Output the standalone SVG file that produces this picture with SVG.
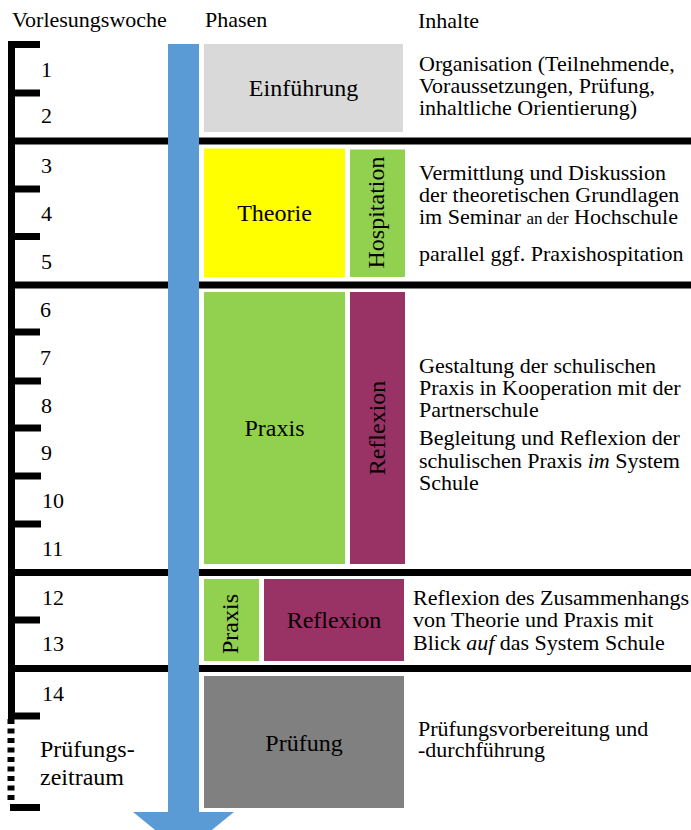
<svg xmlns="http://www.w3.org/2000/svg" width="691" height="830" viewBox="0 0 691 830" font-family="Liberation Serif, Times New Roman, serif">
<style>
text{font-family:'Liberation Serif','Times New Roman',Tinos,'DejaVu Serif',serif;fill:#000}
.t{font-size:22px}
.l{font-size:24px}
.c{text-anchor:middle}
.sep{fill:#000}
.tick{fill:#000}
</style>
<rect width="691" height="830" fill="#fff"/>
<g id="headers">
<text class="t" x="12" y="27">Vorlesungswoche</text>
<text class="t" x="205" y="27">Phasen</text>
<text class="t" x="418" y="28">Inhalte</text>
</g>
<g id="separators">
<rect class="sep" x="8" y="137.5" width="683" height="7"/>
<rect class="sep" x="8" y="281.5" width="683" height="7"/>
<rect class="sep" x="8" y="569" width="683" height="7"/>
<rect class="sep" x="8" y="665" width="683" height="7"/>
</g>
<g id="ruler">
<rect class="tick" x="8" y="41" width="7" height="678"/>
<rect class="tick" x="8" y="41" width="32" height="7"/>
<rect class="tick" x="8" y="89.5" width="32" height="7"/>
<rect class="tick" x="8" y="185.5" width="32" height="7"/>
<rect class="tick" x="8" y="233" width="32" height="7"/>
<rect class="tick" x="8" y="328.5" width="32" height="7"/>
<rect class="tick" x="8" y="377.5" width="33" height="7"/>
<rect class="tick" x="8" y="424.5" width="33" height="7"/>
<rect class="tick" x="8" y="472.5" width="33" height="7"/>
<rect class="tick" x="8" y="520.5" width="33" height="7"/>
<rect class="tick" x="8" y="616.5" width="32" height="7"/>
<rect class="tick" x="8" y="712.5" width="32" height="7"/>
<line x1="11" y1="719" x2="11" y2="804" stroke="#000" stroke-width="7" stroke-dasharray="5 4.5"/>
<rect class="tick" x="10" y="804" width="30" height="7"/>
<text class="t" x="41" y="77">1</text>
<text class="t" x="41" y="123">2</text>
<text class="t" x="41" y="173">3</text>
<text class="t" x="41" y="221">4</text>
<text class="t" x="41" y="269">5</text>
<text class="t" x="40" y="317">6</text>
<text class="t" x="40" y="365">7</text>
<text class="t" x="41" y="413">8</text>
<text class="t" x="41" y="460">9</text>
<text class="t" x="42" y="508">10</text>
<text class="t" x="42" y="556">11</text>
<text class="t" x="42" y="605">12</text>
<text class="t" x="42" y="651">13</text>
<text class="t" x="42" y="701">14</text>
<text class="l" x="40" y="757">Prüfungs-</text>
<text class="l" x="40" y="785">zeitraum</text>
</g>
<g id="arrow">
<rect x="168" y="44" width="31" height="769" fill="#5B9BD5"/>
<polygon points="133,812 234,812 183.5,853" fill="#5B9BD5"/>
</g>
<g id="einfuehrung">
<rect x="204" y="44" width="199" height="88" fill="#D9D9D9"/>
<text class="l c" x="303.5" y="96">Einführung</text>
</g>
<g id="theorie">
<rect x="204" y="148.5" width="141" height="128.5" fill="#FFFF00"/>
<text class="l c" x="274.5" y="221">Theorie</text>
</g>
<g id="hospitation">
<rect x="350" y="149.5" width="55" height="127.5" fill="#92D050"/>
<text class="l c" transform="rotate(-90 384 212.5)" x="384" y="212.5">Hospitation</text>
</g>
<g id="praxis1">
<rect x="204" y="292" width="141" height="272" fill="#92D050"/>
<text class="l c" x="274.5" y="436">Praxis</text>
</g>
<g id="reflexion1">
<rect x="350" y="292" width="55" height="272" fill="#993366"/>
<text class="l c" transform="rotate(-90 385 428)" x="385" y="428">Reflexion</text>
</g>
<g id="praxis2">
<rect x="204" y="579" width="55" height="82" fill="#92D050"/>
<text class="l c" transform="rotate(-90 238 624)" x="238" y="624">Praxis</text>
</g>
<g id="reflexion2">
<rect x="264" y="579" width="140" height="82" fill="#993366"/>
<text class="l c" x="334" y="628">Reflexion</text>
</g>
<g id="pruefung">
<rect x="204" y="676" width="200" height="132" fill="#808080"/>
<text class="l c" x="304" y="751">Prüfung</text>
</g>
<g id="inhalte">
<text class="t" x="419" y="71">Organisation (Teilnehmende,</text>
<text class="t" x="419" y="93">Voraussetzungen, Prüfung,</text>
<text class="t" x="419" y="115">inhaltliche Orientierung)</text>
<text class="t" x="419" y="180">Vermittlung und Diskussion</text>
<text class="t" x="419" y="202">der theoretischen Grundlagen</text>
<text class="t" x="419" y="224">im Seminar <tspan font-size="17">an der</tspan> Hochschule</text>
<text class="t" x="419" y="261">parallel ggf. Praxishospitation</text>
<text class="t" x="419" y="373">Gestaltung der schulischen</text>
<text class="t" x="419" y="395">Praxis in Kooperation mit der</text>
<text class="t" x="419" y="417">Partnerschule</text>
<text class="t" x="419" y="445">Begleitung und Reflexion der</text>
<text class="t" x="419" y="468">schulischen Praxis <tspan font-style="italic">im</tspan> System</text>
<text class="t" x="419" y="490">Schule</text>
<text class="t" x="413" y="605">Reflexion des Zusammenhangs</text>
<text class="t" x="413" y="627">von Theorie und Praxis mit</text>
<text class="t" x="413" y="650">Blick <tspan font-style="italic">auf</tspan> das System Schule</text>
<text class="t" x="418" y="736">Prüfungsvorbereitung und</text>
<text class="t" x="418" y="757">-durchführung</text>
</g>
</svg>
